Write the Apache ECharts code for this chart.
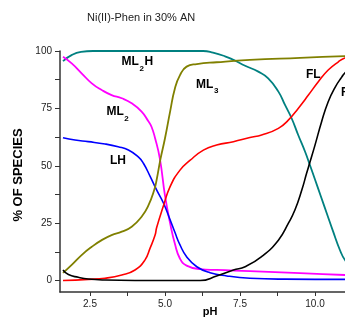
<!DOCTYPE html>
<html>
<head>
<meta charset="utf-8">
<script src="https://cdn.jsdelivr.net/npm/echarts@6/dist/echarts.min.js"></script>
<style>html,body{margin:0;padding:0;background:#fff}#c{width:345px;height:328px}</style>
</head>
<body>
<div id="c"></div>
<script>
// ---- data (pH, % of species) ----
const ml2h = [[1.6,95.6],[1.9,98.3],[2.2,99.6],[2.6,100],[4.0,100],[6.27,100],[6.6,99.3],[7.0,97.7],[7.3,96],[7.67,93.6],[8.11,91],[8.44,88.1],[8.78,82.3],[9.0,76.5],[9.22,70.7],[9.44,63.4],[9.67,56.1],[9.83,50.3],[10.0,44],[10.2,36.5],[10.4,29],[10.6,21.5],[10.83,13.3],[11.0,8.9],[11.3,4.5]];
const ml2 = [[1.6,97.5],[1.89,94.6],[2.22,90.3],[2.56,85.9],[2.89,83],[3.22,80.8],[3.56,79.4],[3.89,77.2],[4.22,73.6],[4.44,69.5],[4.55,67],[4.67,62],[4.83,53],[5.0,37],[5.17,25],[5.33,16],[5.5,9.5],[5.72,6.5],[6.17,5.0],[6.72,4.6],[7.83,4.1],[9.5,3.2],[11.0,2.4],[11.3,2.3]];
const lh = [[1.6,62.2],[2.0,61.2],[2.44,60.5],[3.0,59.5],[3.44,58.3],[3.78,56.9],[4.11,53.9],[4.28,51.1],[4.5,45.5],[4.72,39.5],[4.94,34],[5.17,26.5],[5.33,21],[5.5,15.5],[5.72,10.4],[6.06,6],[6.5,3.4],[7.06,2],[7.83,1],[9.0,0.6],[11.0,0.5],[11.3,0.5]];
const ml3 = [[1.6,3.3],[1.89,6.8],[2.22,11.1],[2.56,14.7],[2.89,17.6],[3.22,19.8],[3.56,21.3],[3.89,23.4],[4.22,27.8],[4.44,32.5],[4.64,39.4],[4.72,43.8],[4.85,53],[5.0,62],[5.17,73.6],[5.33,83.7],[5.5,89.5],[5.72,93.2],[6.06,94.3],[6.72,95.1],[7.83,96.1],[9.5,97],[11.0,97.8],[11.3,97.9]];
const fl = [[1.6,0],[2.44,0.5],[3.0,1.0],[3.56,2.4],[4.0,4.6],[4.33,8.9],[4.5,14],[4.67,19.8],[4.72,23],[4.94,32.2],[5.17,40.9],[5.5,48.1],[5.83,52.3],[6.28,56.8],[6.72,59],[7.28,60.5],[7.83,62.3],[8.22,63.4],[8.78,66.3],[9.11,69.9],[9.44,75],[9.78,80.8],[10.11,86.6],[10.44,91.7],[10.78,95.3],[11.0,97],[11.3,98]];
const flb = [[1.6,4.6],[1.78,2.6],[2.11,1.4],[2.44,0.65],[3.0,0.2],[4.0,0],[6.17,0],[6.72,1.96],[7.28,4.6],[7.67,6],[8.22,10.4],[8.78,17.6],[9.11,24.9],[9.33,30.7],[9.56,39.4],[9.72,46.7],[9.83,51.5],[10.0,59],[10.22,69.2],[10.44,77.9],[10.67,84.2],[10.89,88.6],[11.0,90.5],[11.3,93.5]];
const xTickLabels = [2.5, 5, 7.5, 10];
const xTicks = [2.5, 3.75, 5, 6.25, 7.5, 8.75, 10];
const yTickLabels = [0, 25, 50, 75, 100];
const yTicks = [0, 12.5, 25, 37.5, 50, 62.5, 75, 87.5, 100];

const FONT = '"Liberation Sans", Arial, sans-serif';
function line(name, data, color, w) {
  return { name, type: 'line', data, showSymbol: false, smooth: 0.5,
           lineStyle: { color, width: w }, itemStyle: { color }, silent: true };
}
function txt(x, y, s, size, weight, fill) {
  return { type: 'text', x, y, silent: true,
    style: { text: s, font: weight + ' ' + size + 'px ' + FONT, fill: fill || '#000', textAlign: 'left', textVerticalAlign: 'middle' } };
}

const chart = echarts.init(document.getElementById('c'), null, { renderer: 'canvas' });
chart.setOption({
  animation: false,
  backgroundColor: '#fff',
  grid: { left: 60, top: 51, width: 285, height: 241, containLabel: false },
  xAxis: {
    type: 'value', min: 1.5, max: 11,
    axisLine: { onZero: false, lineStyle: { color: '#333', width: 1.5 } },
    axisTick: { show: true, customValues: xTicks, length: 4, lineStyle: { color: '#333', width: 1 } },
    axisLabel: { customValues: xTickLabels, formatter: v => Number(v).toFixed(1), fontSize: 10, color: '#222', margin: 7, fontFamily: FONT },
    splitLine: { show: false }
  },
  yAxis: {
    type: 'value', min: -5, max: 100,
    axisLine: { show: true, onZero: false, lineStyle: { color: '#333', width: 1.5 } },
    axisTick: { show: true, customValues: yTicks, length: 5, lineStyle: { color: '#333', width: 1 } },
    axisLabel: { customValues: yTickLabels, fontSize: 10, color: '#222', margin: 8, fontFamily: FONT },
    splitLine: { show: false }
  },
  series: [
    line('ML2H', ml2h, '#008080', 1.8),
    line('ML2', ml2, '#FF00FF', 1.8),
    line('LH', lh, '#0000FF', 1.6),
    line('ML3', ml3, '#808000', 1.8),
    line('FL', fl, '#FF0000', 1.6),
    line('F', flb, '#000000', 1.6)
  ],
  graphic: [
    txt(87, 18, 'Ni(II)-Phen in 30% AN', 11, 'normal', '#222'),
    { type: 'text', x: 18, y: 175, rotation: Math.PI / 2, silent: true,
      style: { text: '% OF SPECIES', font: 'bold 13px ' + FONT, fill: '#000', textAlign: 'center', textVerticalAlign: 'middle' } },
    { type: 'text', x: 210, y: 312, silent: true,
      style: { text: 'pH', font: 'bold 11px ' + FONT, fill: '#000', textAlign: 'center', textVerticalAlign: 'middle' } },
    txt(121.5, 62, 'ML', 12, 'bold'), txt(139.5, 68.5, '2', 8, 'bold'), txt(144.5, 62, 'H', 12, 'bold'),
    txt(106.5, 112, 'ML', 12, 'bold'), txt(124.3, 118.5, '2', 8, 'bold'),
    txt(196, 85, 'ML', 12, 'bold'), txt(214, 90.5, '3', 8, 'bold'),
    txt(306, 75, 'FL', 12, 'bold'),
    txt(110, 161, 'LH', 12, 'bold'),
    txt(341, 93, 'FL', 12, 'bold')
  ]
});
</script>
</body>
</html>
